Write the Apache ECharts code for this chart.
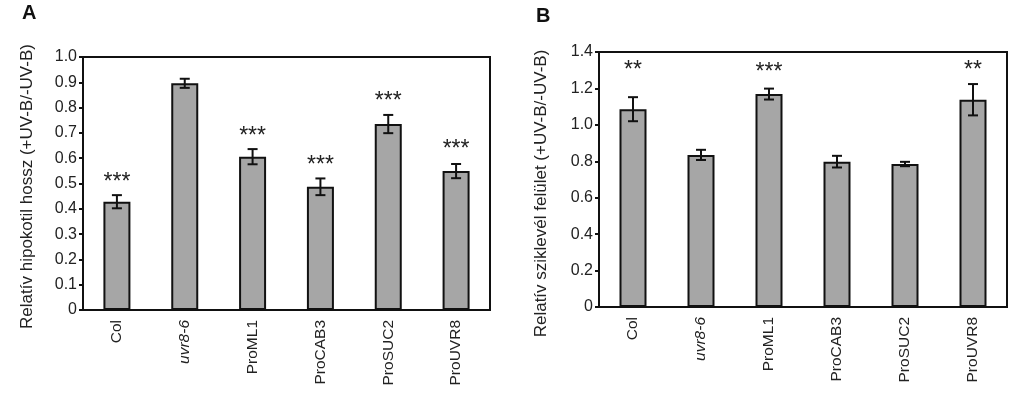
<!DOCTYPE html>
<html>
<head>
<meta charset="utf-8">
<script src="https://cdn.jsdelivr.net/npm/echarts@6/dist/echarts.min.js"></script>
<style>
html,body{margin:0;padding:0;background:#fff;}
#c{width:1024px;height:393px;}
</style>
</head>
<body>
<div id="c"></div>
<script>
var categories = ['Col', 'uvr8-6', 'ProML1', 'ProCAB3', 'ProSUC2', 'ProUVR8'];

var valuesA = [0.428, 0.896, 0.606, 0.487, 0.735, 0.549];
var errorsA = [0.026, 0.018, 0.030, 0.033, 0.036, 0.028];
var starsA = ['***', '', '***', '***', '***', '***'];
var starPosA = [0.505, 0, 0.685, 0.57, 0.825, 0.635];
var ticksA = ['0', '0.1', '0.2', '0.3', '0.4', '0.5', '0.6', '0.7', '0.8', '0.9', '1.0'];

var valuesB = [1.086, 0.835, 1.169, 0.798, 0.785, 1.138];
var errorsB = [0.066, 0.028, 0.030, 0.032, 0.012, 0.086];
var starsB = ['**', '', '***', '', '', '**'];
var starPosB = [1.30, 0, 1.285, 0, 0, 1.295];
var ticksB = ['0', '0.2', '0.4', '0.6', '0.8', '1.0', '1.2', '1.4'];

var FONT = 'Liberation Sans, Arial, sans-serif';
var TXT = '#222';

function errData(vals, errs) {
  return vals.map(function (v, i) { return [i, v - errs[i], v + errs[i]]; });
}
function starData(pos, stars) {
  var d = [];
  pos.forEach(function (p, i) { if (stars[i]) d.push([i, p, stars[i]]); });
  return d;
}
function renderErr(params, api) {
  var x = api.value(0);
  var lo = api.coord([x, api.value(1)]);
  var hi = api.coord([x, api.value(2)]);
  var w = 5;
  var st = { stroke: '#111', lineWidth: 2 };
  return {
    type: 'group',
    children: [
      { type: 'line', shape: { x1: lo[0], y1: lo[1], x2: hi[0], y2: hi[1] }, style: st },
      { type: 'line', shape: { x1: lo[0] - w, y1: lo[1], x2: lo[0] + w, y2: lo[1] }, style: st },
      { type: 'line', shape: { x1: hi[0] - w, y1: hi[1], x2: hi[0] + w, y2: hi[1] }, style: st }
    ]
  };
}
function renderStar(params, api) {
  var p = api.coord([api.value(0), api.value(1)]);
  return {
    type: 'text',
    x: p[0], y: p[1],
    style: { text: api.value(2), fill: TXT, font: '23px ' + FONT, align: 'center', verticalAlign: 'middle' }
  };
}
function xAxis(gi) {
  return {
    type: 'category', gridIndex: gi, data: categories,
    axisLine: { lineStyle: { color: '#111', width: 2 } },
    axisTick: { show: false },
    axisLabel: {
      rotate: 90, margin: 10, fontSize: 15.5, fontFamily: FONT, color: TXT,
      formatter: function (v) { return v === 'uvr8-6' ? '{i|' + v + '}' : v; },
      rich: { i: { fontStyle: 'italic', fontSize: 15.5, fontFamily: FONT, color: TXT } }
    }
  };
}
function yAxis(gi, max, interval, ticks, name, gap, pad) {
  return {
    type: 'value', gridIndex: gi, min: 0, max: max, interval: interval,
    name: name, nameLocation: 'middle', nameGap: gap,
    nameTextStyle: { fontSize: 17, fontFamily: FONT, color: TXT, padding: pad },
    splitLine: { show: false },
    axisLine: { show: true, lineStyle: { color: '#111', width: 2 } },
    axisTick: { show: true, length: 4, lineStyle: { color: '#111', width: 2 } },
    axisLabel: {
      fontSize: 16, fontFamily: FONT, color: TXT, margin: 6,
      formatter: function (v) {
        var idx = Math.round(v / interval);
        return ticks[idx];
      }
    }
  };
}
var chart = echarts.init(document.getElementById('c'));
chart.setOption({
  animation: false,
  backgroundColor: '#fff',
  title: [
    { text: 'A', left: 17, top: -2, textStyle: { fontSize: 20, fontWeight: 'bold', fontFamily: FONT, color: '#111' } },
    { text: 'B', left: 531, top: 1, textStyle: { fontSize: 20, fontWeight: 'bold', fontFamily: FONT, color: '#111' } }
  ],
  grid: [
    { left: 83, right: 534, top: 57, bottom: 83, show: true, borderColor: '#111', borderWidth: 2, backgroundColor: 'transparent' },
    { left: 599, right: 17, top: 52, bottom: 86, show: true, borderColor: '#111', borderWidth: 2, backgroundColor: 'transparent' }
  ],
  xAxis: [xAxis(0), xAxis(1)],
  yAxis: [
    yAxis(0, 1.0, 0.1, ticksA, 'Relatív hipokotil hossz (+UV-B/-UV-B)', 47, [0, 6, 0, 0]),
    yAxis(1, 1.4, 0.2, ticksB, 'Relatív sziklevél felület (+UV-B/-UV-B)', 49, [0, 28, 0, 0])
  ],
  series: [
    { type: 'bar', xAxisIndex: 0, yAxisIndex: 0, data: valuesA, barWidth: 27,
      itemStyle: { color: '#a6a6a6', borderColor: '#111', borderWidth: 2 } },
    { type: 'custom', xAxisIndex: 0, yAxisIndex: 0, data: errData(valuesA, errorsA), renderItem: renderErr, z: 5 },
    { type: 'custom', xAxisIndex: 0, yAxisIndex: 0, data: starData(starPosA, starsA), renderItem: renderStar, z: 5 },
    { type: 'bar', xAxisIndex: 1, yAxisIndex: 1, data: valuesB, barWidth: 27,
      itemStyle: { color: '#a6a6a6', borderColor: '#111', borderWidth: 2 } },
    { type: 'custom', xAxisIndex: 1, yAxisIndex: 1, data: errData(valuesB, errorsB), renderItem: renderErr, z: 5 },
    { type: 'custom', xAxisIndex: 1, yAxisIndex: 1, data: starData(starPosB, starsB), renderItem: renderStar, z: 5 }
  ]
});
</script>
</body>
</html>
